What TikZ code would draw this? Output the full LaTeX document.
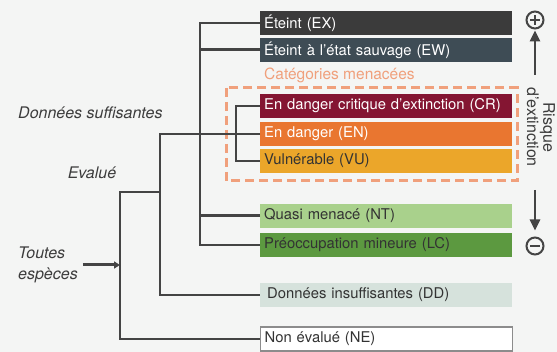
\documentclass[tikz,border=0pt]{standalone}
\usepackage{fontspec}
\setmainfont{TeX Gyre Heros}
\usetikzlibrary{arrows.meta,positioning}
\definecolor{bgC}{HTML}{F4F5F4}
\definecolor{lineC}{HTML}{444444}
\definecolor{labC}{HTML}{3C3C3C}
\definecolor{txtC}{HTML}{333333}
\definecolor{salC}{HTML}{F0A07C}
\definecolor{cEX}{HTML}{3B3B3B}
\definecolor{cEW}{HTML}{3E4C55}
\definecolor{cCR}{HTML}{841532}
\definecolor{cEN}{HTML}{E97630}
\definecolor{cVU}{HTML}{EBA62A}
\definecolor{cNT}{HTML}{A9D18C}
\definecolor{cLC}{HTML}{5C9940}
\definecolor{cDD}{HTML}{D6E2DC}
\definecolor{neC}{HTML}{8C8C8C}

\begin{document}
\begin{tikzpicture}[x=1pt,y=-1pt,
   cat/.style={anchor=west,minimum height=24pt,text width=244pt,inner xsep=4pt,inner ysep=0pt,
      align=left,text=txtC,font=\fontsize{14.8}{17}\selectfont},
   branch/.style={draw=lineC,line width=2pt},
   trunk/.style={draw=lineC,line width=3pt},
   lbl/.style={inner sep=0pt,text=labC,font=\fontsize{16}{21}\selectfont\itshape},
   threat/.style={draw=salC,line width=3pt,dash pattern=on 9pt off 5pt},
   sym/.style={draw=lineC,line width=2pt,circle,minimum size=17pt,inner sep=0pt},
   riskarrow/.style={draw=lineC,line width=2.5pt,-{Triangle[length=11pt,width=10pt]}}]
\useasboundingbox[fill=bgC] (0,0) rectangle (557,352);

% categories
\node[cat,fill=cEX,text=white] (ex) at (260,23) {Éteint (EX)};
\node[cat,fill=cEW,text=white] (ew) at (260,50) {Éteint à l’état sauvage (EW)};
\node[cat,fill=cCR,text=white] (cr) at (260,106) {\mbox{En danger critique d’extinction (CR)}};
\node[cat,fill=cEN,text=white] (en) at (260,134) {En danger (EN)};
\node[cat,fill=cVU] (vu) at (260,161) {Vulnérable (VU)};
\node[cat,fill=cNT] (nt) at (260,216) {Quasi menacé (NT)};
\node[cat,fill=cLC] (lc) at (260,245) {Préoccupation mineure (LC)};
\node[cat,fill=cDD] (dd) at (260,295) {\hspace{3pt}Données insuffisantes (DD)};
\node[cat,fill=white,draw=neC,line width=1.2pt] (ne) at (260,339) {Non évalué (NE)};

\draw[threat] (226,88) rectangle (517,181);
\node[anchor=west,inner sep=0pt,text=salC,font=\fontsize{15.5}{17}\selectfont] (menace) at (264,75) {Catégories menacées};

% labels
\node[lbl,anchor=west] (suff) at (18,113) {Données suffisantes};
\node[lbl] (eval) at (92,173) {Evalué};
\node[lbl,anchor=west,align=left] (toutes) at (18,265) {Toutes\\espèces};

% tree
\coordinate (jS) at (200,0);
\coordinate (jM) at (236,0);
\coordinate (jE) at (160,0);
\coordinate (jA) at (120,0);
\coordinate (ev) at (160,192);
\draw[branch] (ex.west) -| (jS |- lc.west) -- (lc.west);
\draw[trunk] (ew.west) -- (ew.west -| jS);
\draw[trunk] (nt.west) -- (nt.west -| jS);
\draw[branch] (cr.west) -| (jM |- vu.west) -- (vu.west);
\draw[branch] (en.west) -| (jE |- dd.west) -- (dd.west);
\draw[branch] (ev) -| (jA |- ne.west) -- (ne.west);
\draw[trunk,-{Triangle[length=6pt,width=7pt]}] ([xshift=5pt]toutes.east) -- (toutes.east -| jA);

% risk
\node[sym] (plus) at (535,20) {};
\node[sym] (minus) at (535,246) {};
\draw[draw=lineC,line width=2pt] ([yshift=-5pt]plus.center) -- ([yshift=5pt]plus.center)
   ([xshift=-5pt]plus.center) -- ([xshift=5pt]plus.center)
   ([xshift=-5pt]minus.center) -- ([xshift=5pt]minus.center);
\node[rotate=-90,align=center,text=labC,font=\fontsize{16}{15}\selectfont] (risk) at (541,127) {Risque\\d’extinction};
\coordinate (upFoot) at (535,75);
\coordinate (dnFoot) at (535,190);
\draw[riskarrow,shorten >=1pt] (upFoot) -- (plus);
\draw[riskarrow,shorten >=6pt] (dnFoot) -- (minus);
\end{tikzpicture}
\end{document}
